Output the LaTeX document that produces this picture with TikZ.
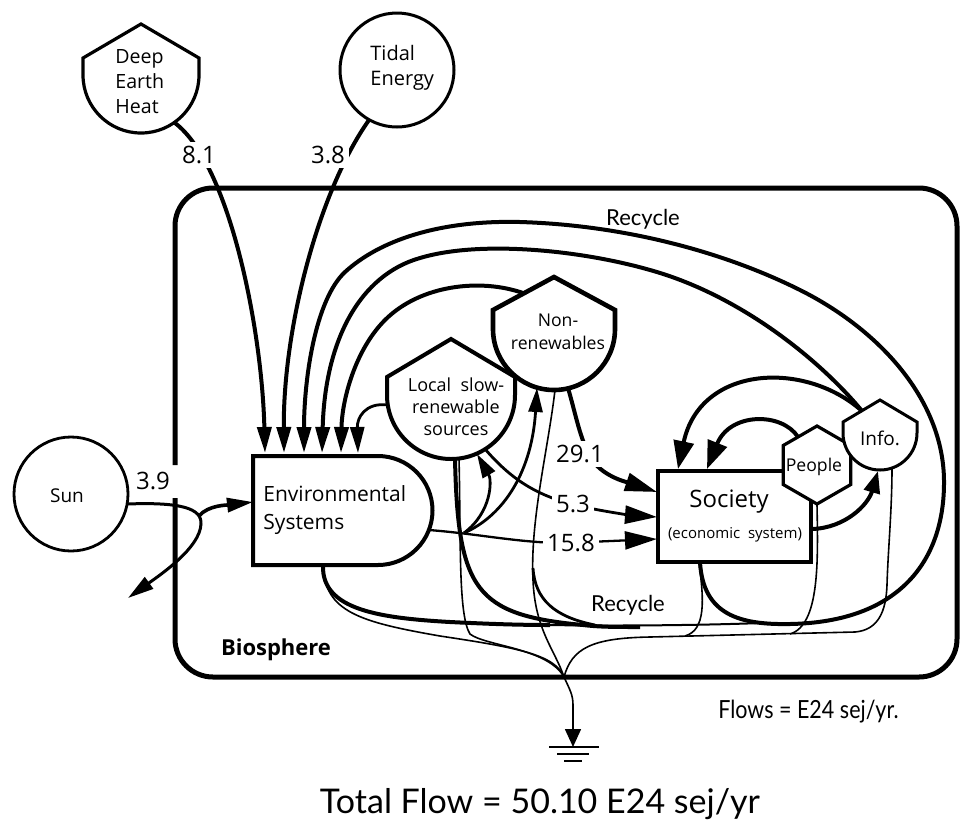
\documentclass[tikz,border=0pt]{standalone}
\usepackage{fontspec}
\setmainfont{Open Sans}
\newfontfamily\latofont{Lato}
\usetikzlibrary{arrows.meta}
% cx, cy, r, straight, roof, line width
\newcommand\shieldshape[6]{%
  \draw[line width=#6, fill=white] ({#1-#3},{#2}) -- ({#1-#3},{#2-#4}) -- ({#1},{#2-#4-#5}) -- ({#1+#3},{#2-#4}) -- ({#1+#3},{#2}) arc[start angle=0,end angle=180,radius=#3] -- cycle;}
\begin{document}
\begin{tikzpicture}[x=0.5pt,y=-0.5pt,
  thickflow/.style={line width=2pt},
  medflow/.style={line width=1.4pt},
  lineflow/.style={line width=1.15pt},
  thinflow/.style={line width=0.8pt},
  arrA/.style={-{Triangle[length=13pt,width=7pt]}},
  arrB/.style={-{Triangle[length=16pt,width=9pt]}},
  arrC/.style={-{Triangle[length=12pt,width=7pt]}},
  arrD/.style={-{Triangle[length=14pt,width=10pt]}},
  arrE/.style={-{Triangle[length=11pt,width=8pt]}},
  arrG/.style={-{Triangle[length=9pt,width=8pt]}},
  lbl/.style={font=\fontsize{12}{14}\selectfont, fill=white, inner sep=2pt},
  txt/.style={inner sep=0pt}]
\useasboundingbox (0,0) rectangle (960,821);

% ---------- Biosphere boundary ----------
\draw[line width=2.5pt, rounded corners=19pt] (175,498) -- (175,677) -- (957,677) -- (957,188) -- (175,188) -- (175,465);

% ---------- shapes ----------
\shieldshape{141}{75}{58}{17}{34}{1.6pt}
\draw[line width=1.5pt, fill=white] (397,70) circle[radius=57];
\draw[line width=1.4pt, fill=white] (71,494) circle[radius=57];
\draw[line width=2pt, fill=white] (253,456) -- (378,456) arc[start angle=-90,end angle=90,radius=54.5] -- (253,565) -- cycle;
\shieldshape{451}{395}{64}{18}{38}{2pt}
\shieldshape{554}{329}{61}{19}{33}{2.3pt}
\draw[line width=1.8pt, fill=white] (658,471) rectangle (811,562);
\draw[line width=1.6pt, fill=white] (817,426) -- (850.8,445.5) -- (850.8,484.5) -- (817,504) -- (783.2,484.5) -- (783.2,445.5) -- cycle;
\shieldshape{880}{433}{37}{11}{22}{1.5pt}

% ---------- named connection points ----------
\coordinate (dehOut) at (175,123);
\coordinate (tidOut) at (369,120);
\coordinate (sunR) at (127,504);
\coordinate (sink) at (128,598);
\coordinate (envA) at (265,453);
\coordinate (envB) at (284,453);
\coordinate (envC) at (304,453);
\coordinate (envD) at (322,453);
\coordinate (envE) at (341,453);
\coordinate (envF) at (358,453);
\coordinate (envL) at (253,502);
\coordinate (envR) at (429,530);
\coordinate (envBot) at (323,566);
\coordinate (jEnv) at (464,533);
\coordinate (locL) at (388,405);
\coordinate (locB) at (477,454);
\coordinate (locBR) at (485,449);
\coordinate (locB2) at (455,459);
\coordinate (locB3) at (459,458);
\coordinate (nrL) at (523,293);
\coordinate (nrB) at (568,388);
\coordinate (nrB2) at (537,388);
\coordinate (nrB3) at (555,390);
\coordinate (socL1) at (657,492);
\coordinate (socL2) at (657,517);
\coordinate (socL3) at (657,539);
\coordinate (socT1) at (678,469);
\coordinate (socT2) at (707,469);
\coordinate (socB) at (700,562);
\coordinate (socB2) at (699,563);
\coordinate (socR) at (812,529);
\coordinate (pplTL) at (798,437);
\coordinate (pplB) at (817,504);
\coordinate (infoT) at (862,411);
\coordinate (infoB) at (878,471);
\coordinate (infoB2) at (892,468);
\coordinate (loopBot) at (762,623);
\coordinate (gnd) at (564,677);
\coordinate (gndT) at (573,747);

% ---------- inputs from outside ----------
\draw[thickflow, arrA] (dehOut) .. controls (230,165) and (262,330) .. (envA);
\draw[thickflow, arrA] (tidOut) .. controls (318,192) and (283,330) .. (envB);
\draw[line width=1.5pt, arrA] (sunR) .. controls (180,502) and (202,508) .. (201,524) .. controls (200,548) and (160,575) .. (sink);
\draw[line width=1.8pt, arrA] (199,516) .. controls (208,505) and (228,505) .. (envL);

% ---------- recycle loops into Environmental Systems ----------
\draw[thickflow, arrA] (socB) .. controls (703,615) and (740,625) .. (790,624) .. controls (900,622) and (945,560) .. (944,480) .. controls (943,400) and (880,330) .. (800,290) .. controls (720,250) and (620,225) .. (520,222) .. controls (440,220) and (380,240) .. (345,272) .. controls (315,300) and (304,380) .. (envC);
\draw[thickflow, arrA] (infoT) .. controls (820,360) and (740,295) .. (650,270) .. controls (580,250) and (480,240) .. (420,258) .. controls (360,275) and (325,340) .. (envD);
\draw[thickflow, arrA] (nrL) .. controls (480,278) and (420,285) .. (385,320) .. controls (355,350) and (342,400) .. (envE);
\draw[medflow, arrA] (locL) .. controls (365,402) and (357,418) .. (envF);

% ---------- flows to Society ----------
\draw[lineflow, arrB] (envR) .. controls (480,534) and (520,543) .. (565,543) -- (socL3);
\draw[thickflow, arrB] (nrB) .. controls (576,415) and (580,440) .. (592,460) .. controls (605,478) and (630,483) .. (socL1);
\draw[medflow, arrB] (locBR) .. controls (510,478) and (535,495) .. (575,505) .. controls (600,511) and (630,515) .. (socL2);
\draw[medflow, arrC] (jEnv) .. controls (492,512) and (492,480) .. (locB);
\draw[medflow, arrC] (jEnv) .. controls (505,515) and (532,470) .. (nrB2);

% ---------- People / Info feedbacks ----------
\draw[thickflow, arrD] (pplTL) .. controls (782,412) and (730,412) .. (socT2);
\draw[thickflow, arrD] (infoT) .. controls (805,360) and (700,365) .. (socT1);
\draw[thickflow, arrE] (socR) .. controls (845,528) and (868,505) .. (infoB);

% ---------- lower recycle ----------
\draw[thickflow] (envBot) .. controls (322,610) and (380,618) .. (450,622) .. controls (490,624) and (520,625) .. (550,625);
\draw[line width=1pt] (450,622) .. controls (550,627) and (680,626) .. (loopBot);
\draw[thickflow] (locB2) .. controls (458,590) and (475,615) .. (583,625) .. controls (600,627) and (615,627) .. (640,627);
\draw[medflow] (533,568) .. controls (535,600) and (555,617) .. (595,625);

% ---------- to heat sink ----------
\draw[thinflow] (envBot) .. controls (325,612) and (360,622) .. (440,636) .. controls (520,648) and (555,655) .. (gnd);
\draw[thinflow] (nrB3) .. controls (548,450) and (530,520) .. (533,580) .. controls (535,630) and (555,650) .. (gnd);
\draw[thinflow] (locB3) .. controls (461,540) and (458,615) .. (470,634) .. controls (485,646) and (548,648) .. (gnd);
\draw[thinflow] (gnd) .. controls (572,648) and (592,638) .. (650,637) -- (855,632) .. controls (878,630) and (886,612) .. (887,585) .. controls (888,550) and (892,510) .. (infoB2);
\draw[thinflow] (socB2) .. controls (704,600) and (706,630) .. (685,636);
\draw[thinflow] (pplB) .. controls (818,560) and (820,625) .. (790,634);
\draw[thinflow, arrG] (gnd) .. controls (570,690) and (573,695) .. (573,705) -- (gndT);
\draw[line width=0.8pt] (549,747) -- (599,747) (557,754) -- (589,754) (564,761) -- (582,761);

% ---------- flow labels ----------
\node[lbl] (l81) at (199,155) {8.1};
\node[lbl] (l38) at (328,155) {3.8};
\node[lbl, fill=none] (l39) at (153,481) {3.9};
\node[lbl] (l291) at (580,454) {29.1};
\node[lbl] (l53) at (573,504) {5.3};
\node[lbl] (l158) at (571,543) {15.8};

% ---------- texts ----------
\node[txt, font=\fontsize{9.8}{12.5}\selectfont, align=left, anchor=west] (dehTxt) at (115,82) {Deep\\Earth\\Heat};
\node[txt, font=\fontsize{10}{12.5}\selectfont, align=left, anchor=west] (tidTxt) at (370,68) {Tidal\\Energy};
\node[txt, font=\fontsize{9.5}{11}\selectfont] (sunTxt) at (67,496) {Sun};
\node[txt, font=\fontsize{10.5}{14}\selectfont, align=left, anchor=west] (envTxt) at (263,510) {Environmental\\Systems};
\node[txt, font=\fontsize{9}{11}\selectfont, align=center] (locTxt) at (456,407) {Local\ \ slow-\\renewable\\sources};
\node[txt, font=\fontsize{8.8}{11.5}\selectfont, align=center] (nrTxt) at (558,332) {Non-\\renewables};
\node[txt, font=\fontsize{12}{14}\selectfont] (socTxt) at (729,502) {Society};
\node[txt, font=\fontsize{7.5}{9}\selectfont] (socTxtB) at (735,535) {(economic\ \ system)};
\node[txt, font=\fontsize{8.8}{10}\selectfont] (pplTxt) at (814,467) {People};
\node[txt, font=\fontsize{9.5}{11}\selectfont] (infoTxt) at (880,438) {Info.};
\node[txt, font=\bfseries\fontsize{11}{13}\selectfont] (bioTxt) at (276,650) {Biosphere};
\node[txt, font=\latofont\fontsize{11}{13}\selectfont] (rec1) at (643,219) {Recycle};
\node[txt, font=\latofont\fontsize{11}{13}\selectfont] (rec2) at (628,605) {Recycle};
\node[txt, font=\latofont\fontsize{12.5}{14}\selectfont, anchor=base west] (flows) at (718,718) {\scalebox{0.86}[1]{Flows = E24 sej/yr.}};
\node[txt, font=\latofont\fontsize{17}{19}\selectfont, anchor=base] (total) at (540,813) {Total Flow = 50.10 E24 sej/yr};
\end{tikzpicture}
\end{document}
